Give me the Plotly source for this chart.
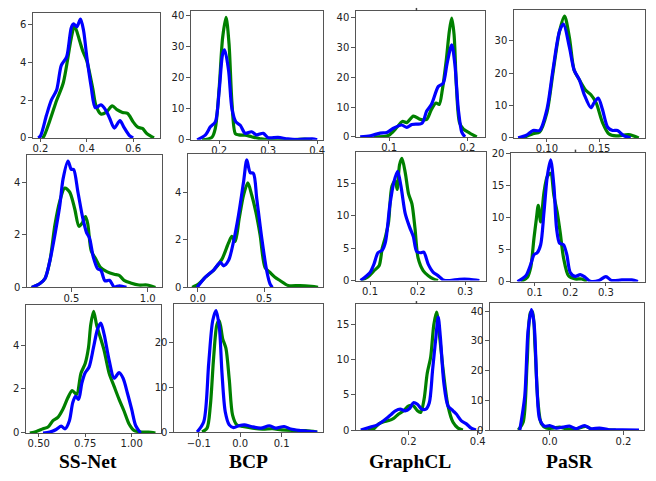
import plotly.graph_objects as go

# ---------------- DATA ----------------
methods = ["SS-Net", "BCP", "GraphCL", "PaSR"]

# Row 1
ssnet_r1_green = [(0.205,0),(0.213,0.05),(0.24,0.9),(0.27,2.0),(0.298,2.9),(0.333,5.3),(0.347,5.95),(0.368,5.2),(0.383,4.6),(0.4,4.1),(0.426,2.6),(0.44,1.7),(0.461,1.27),(0.483,1.35),(0.51,1.7),(0.53,1.5),(0.554,1.35),(0.576,1.3),(0.6,0.85),(0.62,0.57),(0.64,0.5),(0.66,0.22),(0.69,0.0)]
ssnet_r1_blue = [(0.19,0),(0.2,0.1),(0.226,1.2),(0.247,2.0),(0.27,2.55),(0.29,3.85),(0.313,4.3),(0.333,5.85),(0.343,6.05),(0.357,5.9),(0.373,6.3),(0.386,5.7),(0.4,4.3),(0.419,2.7),(0.437,1.6),(0.461,1.75),(0.483,1.45),(0.5,1.0),(0.519,0.52),(0.543,0.92),(0.56,0.57),(0.583,0.14),(0.6,0.0)]
bcp_r1_green = [(0.165,0),(0.185,0.8),(0.192,3.7),(0.2,17),(0.207,33),(0.214,39.5),(0.22,31),(0.226,12),(0.233,2.0),(0.24,1.6),(0.253,1.5),(0.266,1.0),(0.286,0.3),(0.3,0.05),(0.35,0.05),(0.375,0.25),(0.39,0.0)]
bcp_r1_blue = [(0.155,0),(0.172,1.6),(0.182,4.2),(0.192,5.8),(0.2,16),(0.207,27.7),(0.211,29),(0.219,22.5),(0.226,10),(0.234,5.8),(0.243,4.7),(0.253,2.1),(0.266,2.6),(0.276,1.6),(0.29,2.1),(0.3,0.7),(0.32,0.8),(0.34,0.3),(0.36,0.1),(0.39,0.3),(0.4,0.0)]
graphcl_r1_green = [(0.08,0),(0.095,0.2),(0.1,0.6),(0.108,2.6),(0.117,5.2),(0.1226,4.8),(0.131,7.0),(0.14,5.9),(0.148,5.9),(0.154,9.2),(0.16,11.4),(0.164,10.9),(0.168,15.8),(0.173,25.7),(0.177,35.6),(0.18,40),(0.183,34.5),(0.186,17),(0.19,4.8),(0.195,2.6),(0.203,1.3),(0.212,0.0)]
graphcl_r1_blue = [(0.063,0),(0.076,0.4),(0.0885,1.3),(0.097,1.5),(0.1055,2.9),(0.116,4.0),(0.1226,3.2),(0.129,4.2),(0.142,4.6),(0.148,8.7),(0.154,10.9),(0.163,17),(0.169,18),(0.174,24.6),(0.18,31),(0.184,24.6),(0.1885,9.2),(0.193,1.5),(0.197,0.0)]
pasr_r1_green = [(0.077,0),(0.0867,1.3),(0.093,1.8),(0.1,7.8),(0.1057,19.9),(0.112,32.9),(0.1168,37.6),(0.1215,30.9),(0.126,20.9),(0.131,17.9),(0.1373,14.6),(0.142,13.3),(0.147,10.8),(0.153,4.8),(0.159,1.3),(0.166,0.6),(0.178,1.0),(0.1877,0.0)]
pasr_r1_blue = [(0.0725,0),(0.0804,0.8),(0.0867,2.3),(0.093,2.3),(0.1,8.8),(0.1057,20.9),(0.112,32.9),(0.1158,35.1),(0.1215,27.9),(0.126,20.9),(0.131,17.9),(0.1357,13.3),(0.142,9.3),(0.145,10.8),(0.149,12.3),(0.153,8.8),(0.158,3.3),(0.1627,2.3),(0.1674,2.3),(0.1737,0.6),(0.18,0.0)]

# Row 2
ssnet_r2_green = [(0.241,0),(0.295,0.15),(0.328,0.34),(0.36,1.02),(0.393,2.4),(0.425,3.3),(0.457,3.79),(0.489,3.64),(0.522,3.0),(0.55,2.33),(0.571,2.45),(0.593,2.7),(0.608,2.4),(0.63,1.4),(0.66,1.08),(0.69,0.77),(0.735,0.59),(0.78,0.5),(0.813,0.46),(0.845,0.27),(0.888,0.17),(0.942,0.09),(0.996,0.09),(1.05,0.0)]
ssnet_r2_blue = [(0.241,0),(0.295,0.15),(0.328,0.34),(0.36,1.02),(0.393,2.02),(0.425,3.14),(0.446,4.14),(0.478,4.82),(0.5,4.5),(0.515,4.5),(0.543,3.64),(0.575,2.64),(0.6,2.08),(0.618,1.9),(0.644,1.15),(0.672,0.71),(0.6935,0.65),(0.72,0.25),(0.75,0.27),(0.78,0.02),(0.815,0.06),(0.86,0.0)]
bcp_r2_green = [(-0.0425,0),(0.0075,0.15),(0.0575,0.43),(0.12,0.73),(0.1825,1.19),(0.2325,1.88),(0.2575,2.15),(0.2825,1.94),(0.3125,2.9),(0.345,3.88),(0.3775,4.4),(0.4075,3.88),(0.4375,3.19),(0.47,2.22),(0.5075,0.84),(0.545,0.63),(0.5825,0.43),(0.62,0.29),(0.6825,0.08),(0.77,0.08),(0.8575,0.04),(0.9075,0.0)]
bcp_r2_blue = [(-0.005,0),(0.0575,0.43),(0.12,0.73),(0.17,1.05),(0.195,0.91),(0.2325,1.14),(0.27,1.94),(0.3075,3.05),(0.345,4.43),(0.37,5.37),(0.395,4.84),(0.42,4.8),(0.445,3.74),(0.4825,2.08),(0.52,0.7),(0.545,0.15),(0.5625,0.0)]
graphcl_r2_green = [(0.0806,0),(0.0945,0.5),(0.108,1.5),(0.119,2.3),(0.1256,5.0),(0.1325,6.8),(0.139,9.1),(0.146,14.6),(0.153,15.4),(0.157,14.1),(0.162,17.9),(0.167,18.9),(0.174,16.7),(0.181,13.4),(0.188,11.9),(0.1945,8.1),(0.201,3.5),(0.212,1.5),(0.2225,0.76),(0.233,0.25),(0.243,0.0)]
graphcl_r2_blue = [(0.08,0),(0.1,1.26),(0.108,2.5),(0.1166,4.3),(0.1256,4.7),(0.1325,6.0),(0.1415,11.6),(0.15,15.2),(0.158,16.9),(0.165,14.6),(0.174,10.35),(0.183,8.3),(0.191,6.8),(0.198,4.5),(0.206,4.3),(0.213,4.4),(0.2225,2.5),(0.233,1.26),(0.243,0.76),(0.2536,0.1),(0.2675,0.0),(0.288,0.2),(0.309,0.2),(0.33,0.0)]
pasr_r2_green = [(0.061,0),(0.0795,0.66),(0.0888,2.2),(0.098,6.8),(0.1047,9.8),(0.11,11.9),(0.1167,9.3),(0.126,13.9),(0.1353,16.4),(0.1447,16.9),(0.154,13.4),(0.163,10.9),(0.172,7.5),(0.181,3.7),(0.195,0.9),(0.214,0.4),(0.2326,0.4),(0.2465,0.0)]
pasr_r2_blue = [(0.0516,0),(0.075,0.9),(0.0888,2.7),(0.098,4.2),(0.107,4.5),(0.1167,5.75),(0.126,10.8),(0.1353,16.4),(0.1447,19.0),(0.154,14.9),(0.1614,8.3),(0.1698,6.0),(0.181,5.75),(0.1902,4.2),(0.2,1.4),(0.214,0.8),(0.228,1.07),(0.242,0.66),(0.256,0.05),(0.28,0.15),(0.3,0.76),(0.3167,0.15),(0.3446,0.25),(0.3726,0.25),(0.39,0.0)]

# Row 3
ssnet_r3_green = [(0.452,0),(0.4875,0.07),(0.523,0.19),(0.55,0.27),(0.5765,0.56),(0.603,0.71),(0.63,1.08),(0.6566,1.6),(0.68,1.93),(0.704,1.75),(0.727,2.71),(0.75,3.16),(0.768,3.9),(0.78,4.93),(0.795,5.53),(0.811,4.93),(0.829,4.41),(0.852,3.75),(0.879,2.71),(0.9056,2.12),(0.9324,1.53),(0.959,1.0),(0.986,0.41),(1.0125,0.12),(1.057,0.04),(1.09,0.04),(1.128,0.0)]
ssnet_r3_blue = [(0.523,0),(0.559,0.04),(0.594,0.16),(0.621,0.31),(0.642,0.19),(0.665,0.56),(0.683,1.38),(0.698,1.67),(0.7144,1.53),(0.732,2.27),(0.75,2.74),(0.771,3.0),(0.795,3.9),(0.816,4.71),(0.834,5.0),(0.852,4.48),(0.879,3.3),(0.9056,2.49),(0.9324,2.74),(0.954,2.49),(0.977,1.82),(1.0,1.08),(1.0214,0.34),(1.048,0.0)]
bcp_r3_green = [(-0.092,0),(-0.08,0.88),(-0.072,6.0),(-0.064,16.9),(-0.056,24.2),(-0.0504,25.0),(-0.0424,21.0),(-0.0344,18.8),(-0.0264,11.8),(-0.0184,3.8),(-0.008,1.6),(0.0064,1.24),(0.03,0.88),(0.054,0.66),(0.078,0.73),(0.1,0.5),(0.126,0.36),(0.158,0.3),(0.186,0.0)]
bcp_r3_blue = [(-0.104,0),(-0.088,2.3),(-0.076,15.5),(-0.0664,25.0),(-0.0584,27.3),(-0.0504,23.5),(-0.044,13.3),(-0.036,4.5),(-0.0264,1.6),(-0.016,1.0),(-0.0016,1.46),(0.0104,1.6),(0.0264,1.24),(0.05,0.88),(0.07,1.4),(0.086,0.88),(0.106,1.24),(0.122,0.66),(0.142,0.36),(0.166,0.15),(0.186,0.0)]
graphcl_r3_green = [(0.081,0),(0.1,0.19),(0.114,0.88),(0.1286,1.2),(0.143,1.35),(0.157,1.67),(0.1714,2.28),(0.1857,2.74),(0.2,3.44),(0.214,3.44),(0.2257,2.74),(0.235,2.51),(0.2448,4.37),(0.254,8.1),(0.264,10.4),(0.273,15.0),(0.281,16.8),(0.29,13.2),(0.3,8.56),(0.314,3.44),(0.3286,1.1),(0.343,0.28),(0.357,0.0)]
graphcl_r3_blue = [(0.062,0),(0.09,0.42),(0.11,0.74),(0.1286,1.35),(0.148,2.14),(0.162,2.74),(0.176,2.98),(0.19,2.74),(0.203,3.07),(0.214,3.9),(0.2257,3.67),(0.238,2.98),(0.25,2.98),(0.26,3.9),(0.2695,8.56),(0.279,13.2),(0.2857,16.1),(0.292,13.2),(0.302,6.7),(0.314,3.44),(0.3286,2.74),(0.338,2.28),(0.352,1.35),(0.367,0.88),(0.381,0.28),(0.395,0.0)]
pasr_r3_green = [(-0.085,0),(-0.0717,2.6),(-0.061,22.4),(-0.052,39.5),(-0.0466,39.8),(-0.0395,28.0),(-0.0314,9.2),(-0.0224,2.1),(-0.009,0.66),(0.009,0.66),(0.027,1.0),(0.0448,0.44),(0.0717,0.44),(0.0987,1.2),(0.1166,0.1),(0.152,0.1),(0.179,0.0)]
pasr_r3_blue = [(-0.0807,0),(-0.0673,11.4),(-0.0583,33.4),(-0.0493,40.5),(-0.042,35.6),(-0.034,13.6),(-0.027,3.7),(-0.0135,1.3),(0.0,1.5),(0.018,0.66),(0.0359,1.0),(0.0538,1.3),(0.0717,0.44),(0.094,1.5),(0.112,0.44),(0.135,0.66),(0.161,0.1),(0.197,0.1),(0.242,0.0)]

# tick labels
xticks = [
    ([0.2, 0.4, 0.6], ["0.2", "0.4", "0.6"]),
    ([0.2, 0.3, 0.4], ["0.2", "0.3", "0.4"]),
    ([0.1, 0.2], ["0.1", "0.2"]),
    ([0.10, 0.15], ["0.10", "0.15"]),
    ([0.5, 1.0], ["0.5", "1.0"]),
    ([0.0, 0.5], ["0.0", "0.5"]),
    ([0.1, 0.2, 0.3], ["0.1", "0.2", "0.3"]),
    ([0.1, 0.2, 0.3], ["0.1", "0.2", "0.3"]),
    ([0.50, 0.75, 1.00], ["0.50", "0.75", "1.00"]),
    ([-0.1, 0.0, 0.1], ["\u22120.1", "0.0", "0.1"]),
    ([0.2, 0.4], ["0.2", "0.4"]),
    ([0.0, 0.2], ["0.0", "0.2"]),
]
yticks = [
    [0, 2, 4, 6], [0, 10, 20, 30, 40], [0, 10, 20, 30, 40], [0, 10, 20, 30],
    [0, 2, 4], [0, 2, 4], [0, 5, 10, 15], [0, 5, 10, 15, 20],
    [0, 2, 4], [0, 10, 20], [0, 5, 10, 15], [0, 10, 20, 30, 40],
]

panels = [
    (ssnet_r1_green, ssnet_r1_blue), (bcp_r1_green, bcp_r1_blue),
    (graphcl_r1_green, graphcl_r1_blue), (pasr_r1_green, pasr_r1_blue),
    (ssnet_r2_green, ssnet_r2_blue), (bcp_r2_green, bcp_r2_blue),
    (graphcl_r2_green, graphcl_r2_blue), (pasr_r2_green, pasr_r2_blue),
    (ssnet_r3_green, ssnet_r3_blue), (bcp_r3_green, bcp_r3_blue),
    (graphcl_r3_green, graphcl_r3_blue), (pasr_r3_green, pasr_r3_blue),
]

# ---------------- LAYOUT ----------------
W, H = 656, 481
# pixel boxes: (left, right, top, bottom)
boxes = [
    (33, 161, 8, 136), (192, 325, 6, 138), (358, 488, 6, 135), (517, 649, 5, 136),
    (27, 163, 153, 289), (189, 325, 152, 289), (358, 489, 150, 282), (514, 649, 151, 283),
    (26, 162, 307, 438), (175, 325, 306, 437), (358, 485, 306, 435), (493, 648, 305, 435),
]
xranges = [
    (0.167, 0.716), (0.142, 0.412), (0.0574, 0.2226), (0.0684, 0.1937),
    (0.209, 1.093), (-0.075, 0.945), (0.07, 0.344), (0.033, 0.41),
    (0.4306, 1.158), (-0.16, 0.2), (0.0476, 0.4124), (-0.1614, 0.2556),
]
ytops = [6.64, 41.6, 42.4, 39.5, 5.07, 5.64, 19.95, 20.15, 5.82, 28.76, 17.95, 42.7]

fig = go.Figure()
layout = dict(
    width=W, height=H, margin=dict(l=0, r=0, t=0, b=0),
    paper_bgcolor="white", plot_bgcolor="white", showlegend=False,
    font=dict(family="DejaVu Sans", size=10, color="#222"),
)

for i, (g, b) in enumerate(panels):
    n = i + 1
    xa = "x" if n == 1 else f"x{n}"
    ya = "y" if n == 1 else f"y{n}"
    for pts, col in ((g, "#008000"), (b, "#0000ff")):
        fig.add_trace(go.Scatter(
            x=[p[0] for p in pts], y=[p[1] for p in pts], mode="lines",
            line=dict(color=col, width=3.2, shape="spline", smoothing=0.8),
            xaxis=xa, yaxis=ya, hoverinfo="skip"))
    l, r, t, bt = boxes[i]
    axis_common = dict(showline=True, mirror=True, linecolor="#555", linewidth=1,
                       ticks="outside", ticklen=3.5, tickcolor="#555", tickwidth=1,
                       showgrid=False, zeroline=False, tickfont=dict(size=10, color="#222"))
    tv, tt = xticks[i]
    layout[f"xaxis{n}"] = dict(domain=[l / W, r / W], range=list(xranges[i]),
                               anchor=ya, tickvals=tv, ticktext=tt,
                               ticklabelstandoff=-2, **axis_common)
    layout[f"yaxis{n}"] = dict(domain=[1 - bt / H, 1 - t / H], range=[0, ytops[i]],
                               anchor=xa, tickvals=yticks[i],
                               ticktext=[str(v) for v in yticks[i]], **axis_common)

# small stray tick marks visible on some panel tops in the reference
stray = [(419, 6), (579, 151), (419, 306)]
layout["shapes"] = [
    dict(type="line", xref="paper", yref="paper", x0=sx / W, x1=sx / W,
         y0=1 - sy / H, y1=1 - (sy - 3) / H, line=dict(color="#444", width=1.5))
    for sx, sy in stray
]

label_x = [89, 250, 413, 573]
layout["annotations"] = [
    dict(text=f"<b>{m}</b>", x=px / W, y=1 - 467 / H, xref="paper", yref="paper",
         showarrow=False, xanchor="center", yanchor="middle",
         font=dict(family="Liberation Serif", size=19.5, color="black"))
    for m, px in zip(methods, label_x)
]
fig.update_layout(**layout)
fig.write_html("out.html", config={"displayModeBar": False},
               post_script="document.body.style.margin='0px';document.body.style.overflow='hidden';")
